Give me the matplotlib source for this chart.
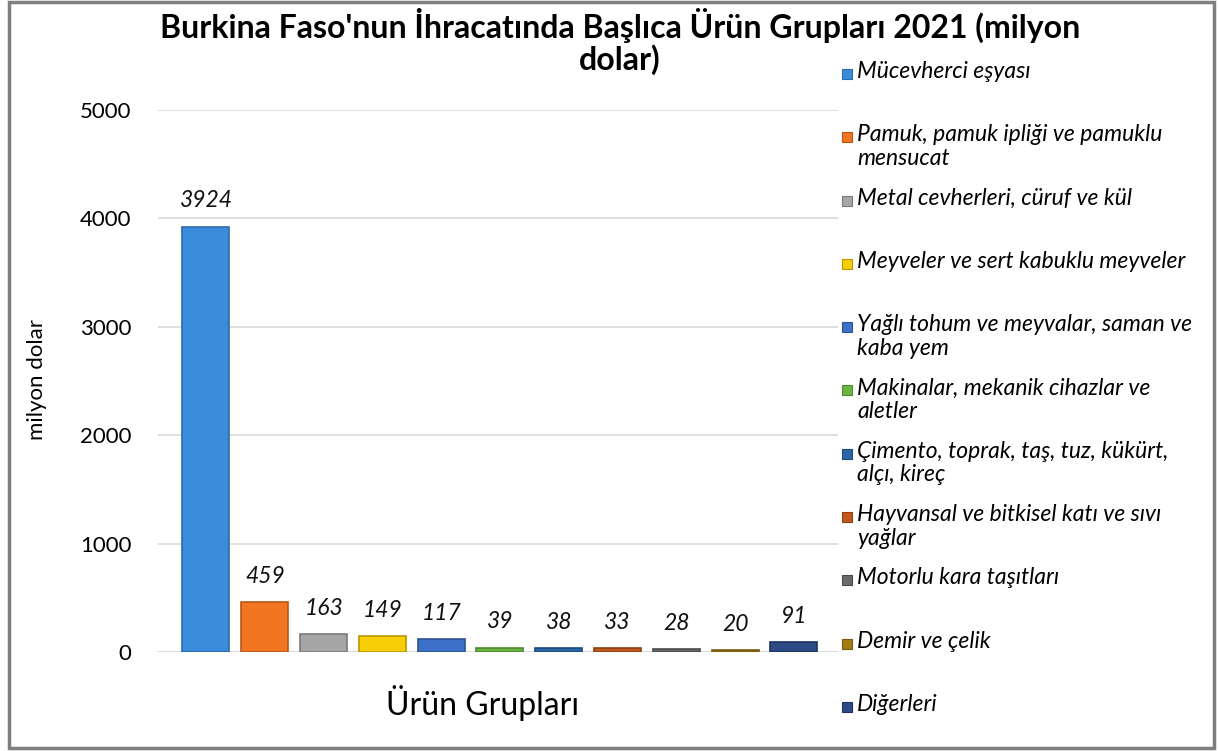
import matplotlib
matplotlib.use("Agg")
import matplotlib.pyplot as plt
from matplotlib.patches import Rectangle

plt.rcParams['font.family'] = ['Lato', 'DejaVu Sans']

categories = [
    "Mücevherci eşyası",
    "Pamuk, pamuk ipliği ve pamuklu\nmensucat",
    "Metal cevherleri, cüruf ve kül",
    "Meyveler ve sert kabuklu meyveler",
    "Yağlı tohum ve meyvalar, saman ve\nkaba yem",
    "Makinalar, mekanik cihazlar ve\naletler",
    "Çimento, toprak, taş, tuz, kükürt,\nalçı, kireç",
    "Hayvansal ve bitkisel katı ve sıvı\nyağlar",
    "Motorlu kara taşıtları",
    "Demir ve çelik",
    "Diğerleri",
]
values = [3924, 459, 163, 149, 117, 39, 38, 33, 28, 20, 91]
colors = ['#3A8BD9', '#F27521', '#A6A6A6', '#F7CE08', '#3D70C8', '#6AB543',
          '#2B66A8', '#C2581C', '#6A6A6A', '#A27B14', '#2C4B86']
edges = ['#2A6BAA', '#B8561A', '#7A7A7A', '#B89800', '#2B5294', '#4E8A2F',
         '#1D4A7C', '#8E4013', '#4A4A4A', '#765A0E', '#1C335E']
yticks = [0, 1000, 2000, 3000, 4000, 5000]

title_lines = ["Burkina Faso'nun İhracatında Başlıca Ürün Grupları 2021 (milyon",
               "dolar)"]

W, H = 1219, 751
fig = plt.figure(figsize=(W / 100, H / 100), dpi=100)
fig.patch.set_facecolor('white')

ax = fig.add_axes([158 / W, (H - 652) / H, 680 / W, 542 / H])
x = list(range(len(values)))
ax.bar(x, values, width=0.8, color=colors, edgecolor=edges, linewidth=1.2, zorder=3)
for xi, v in zip(x, values):
    ax.annotate(f"{v}", (xi, v), xytext=(0, 11), textcoords='offset points',
                ha='center', va='bottom', fontsize=16.5, style='italic', color='#111111')

ax.set_xlim(-0.816, 10.75)
ax.set_ylim(0, 5000)
ax.set_yticks(yticks)
ax.set_yticklabels([str(t) for t in yticks], fontsize=16)
ax.tick_params(axis='y', length=0, pad=19)
ax.set_xticks([])
ax.grid(axis='y', color='#D9D9D9', linewidth=1.2, zorder=0)
for s in ax.spines.values():
    s.set_visible(False)
ax.axhline(0, color='#D9D9D9', linewidth=1.2, zorder=1)

fig.text(37 / W, 1 - 380 / H, "milyon dolar", rotation=90, ha='center', va='center', fontsize=16)
fig.text(483 / W, 1 - 703 / H, "Ürün Grupları", ha='center', va='center', fontsize=23)
fig.text(620 / W, 1 - 38 / H, title_lines[0], ha='center', va='baseline', fontsize=23,
         fontweight='bold')
fig.text(620 / W, 1 - 70 / H, title_lines[1], ha='center', va='baseline', fontsize=23,
         fontweight='bold')

# legend (manual layout, entries top-aligned in equal slots)
y0 = 74
step = 63.3
for i, (lab, c, e) in enumerate(zip(categories, colors, edges)):
    yy = y0 + i * step
    fig.patches.append(Rectangle((842 / W, 1 - (yy + 5) / H), 10 / W, 10 / H,
                                 transform=fig.transFigure, facecolor=c,
                                 edgecolor=e, linewidth=0.8))
    fig.text(857 / W, 1 - (yy - 13) / H, lab, ha='left', va='top', fontsize=16.5,
             style='italic', linespacing=1.15)

fig.patches.append(Rectangle((9 / W, 3 / H), (W - 14) / W, (H - 5) / H,
                             transform=fig.transFigure, fill=False,
                             edgecolor='#7F7F7F', linewidth=2.5))

fig.savefig('out.png', dpi=100)
